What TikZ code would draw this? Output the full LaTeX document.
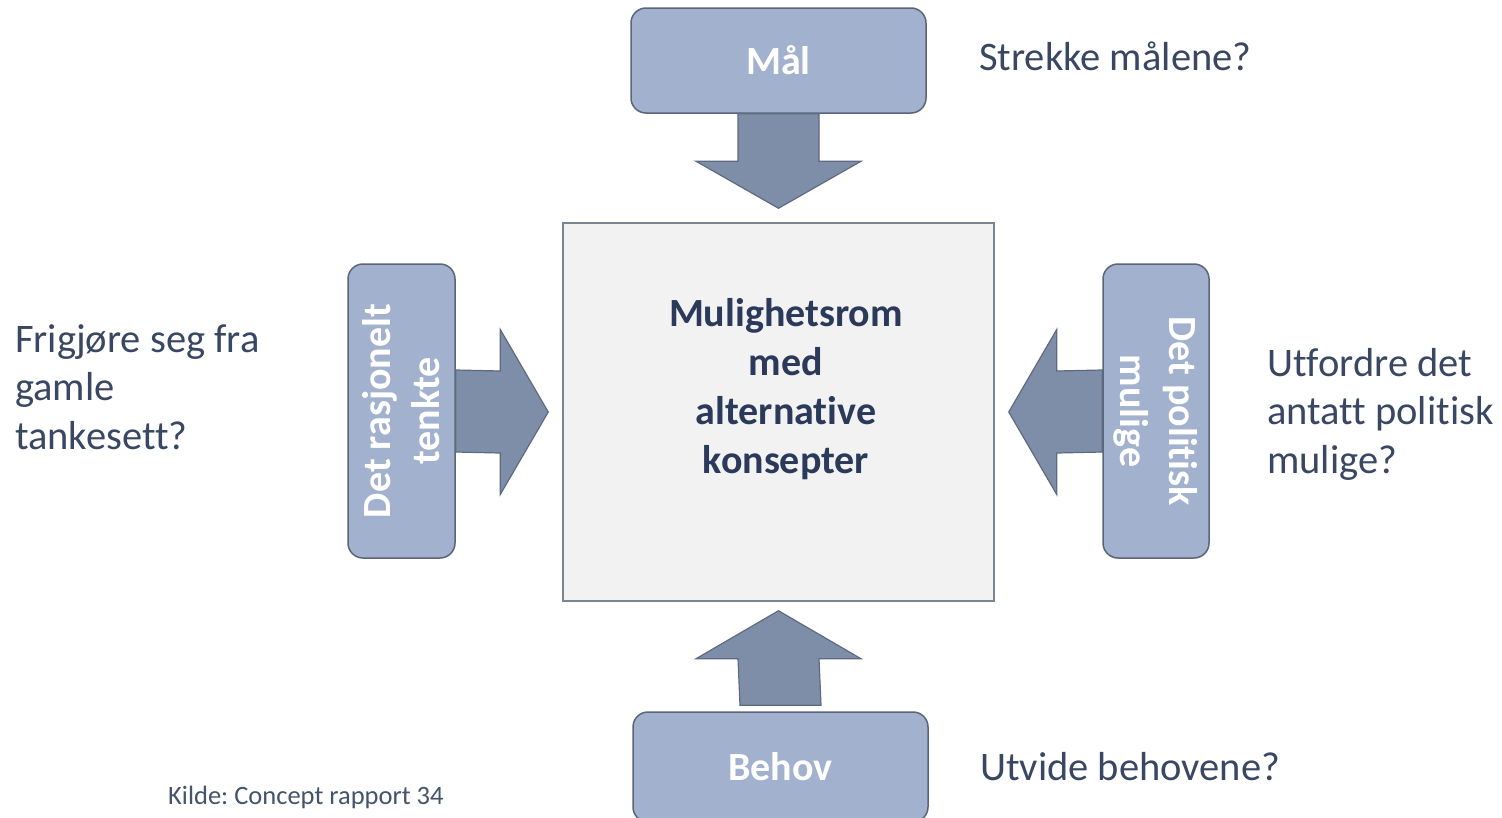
\documentclass[tikz,border=0pt]{standalone}
\usepackage{fontspec}
\setmainfont{Carlito}[Ligatures={NoCommon,NoRare,NoContextual},RawFeature={-liga;-clig;-calt;-dlig}]
\usetikzlibrary{calc}
\definecolor{boxfill}{HTML}{A2B1CE}
\definecolor{boxline}{HTML}{5B6579}
\definecolor{arrfill}{HTML}{7F8EA8}
\definecolor{arrline}{HTML}{5E6A80}
\definecolor{ctrfill}{HTML}{F2F2F2}
\definecolor{ctrline}{HTML}{7C8594}
\definecolor{ctrtxt}{HTML}{2B3A5A}
\definecolor{txt}{HTML}{3A4762}
\definecolor{srctxt}{HTML}{44546A}
\frenchspacing
\begin{document}
\begin{tikzpicture}[x=1pt,y=-1pt,
  gbox/.style={draw=boxline, line width=1.5pt, fill=boxfill, rounded corners=15pt,
    inner sep=0pt, text=white, font=\fontsize{40}{49}\selectfont\bfseries, align=center},
  ctrbox/.style={draw=ctrline, line width=1.5pt, fill=ctrfill, inner sep=0pt},
  ctrlabel/.style={inner sep=0pt, text=ctrtxt, font=\fontsize{40}{49}\selectfont\bfseries, align=center},
  arr/.style={draw=arrline, line width=1.2pt, fill=arrfill, line join=miter},
  note/.style={inner sep=0pt, anchor=west, align=left, text=txt,
    font=\fontsize{40.5}{48.5}\selectfont},
]
\useasboundingbox (0,0) rectangle (1502,817);
\fill[white] (0,0) rectangle (1502,817);

% nodes
\node[ctrbox, minimum width=431, minimum height=378] (ctr) at (778.5,412) {};
\node[ctrlabel] (ctrl) at (786,389) {Mulighetsrom\\med\\alternative\\konsepter};
\node[gbox, minimum width=295, minimum height=105] (mal) at (778.5,60.5) {Mål};
\node[gbox, minimum width=295, minimum height=110] (beh) at (780.5,767) {Behov};
\node[gbox, minimum width=294, minimum height=107, rotate=90] (rasj) at (401.5,411)
  {Det rasjonelt\\tenkte};
\node[gbox, minimum width=294, minimum height=106, rotate=-90] (pol) at (1156,411)
  {Det politisk\\mulige};

% block arrows
% top: Mål -> centre
\coordinate (tT) at ($(ctr.north)+(0,-14)$);
\draw[arr] ($(mal.south)+(-40.5,0)$) -- ($(tT)+(-40.5,-47)$) -- ($(tT)+(-82.5,-47)$)
  -- (tT) -- ($(tT)+(82.5,-47)$) -- ($(tT)+(40.5,-47)$) -- ($(mal.south)+(40.5,0)$) -- cycle;
% bottom: Behov -> centre
\coordinate (tB) at ($(ctr.south)+(0,9)$);
\draw[arr] ($(beh.north)+(-40.5,-6)$) -- ($(tB)+(-40.5,48)$) -- ($(tB)+(-82.5,48)$)
  -- (tB) -- ($(tB)+(82.5,48)$) -- ($(tB)+(40.5,48)$) -- ($(beh.north)+(40.5,-6)$) -- cycle;
% left: rasjonelt (its south anchor is its right side) -> centre
\coordinate (tL) at ($(ctr.west)+(-14,0)$);
\draw[arr] ($(rasj.south)+(0,-41)$) -- ($(tL)+(-48,-41)$) -- ($(tL)+(-48,-82.5)$)
  -- (tL) -- ($(tL)+(-48,82.5)$) -- ($(tL)+(-48,41)$) -- ($(rasj.south)+(0,41)$) -- cycle;
% right: politisk (its south anchor is its left side) -> centre
\coordinate (tR) at ($(ctr.east)+(14,0)$);
\draw[arr] ($(pol.south)+(0,-41)$) -- ($(tR)+(48,-41)$) -- ($(tR)+(48,-82.5)$)
  -- (tR) -- ($(tR)+(48,82.5)$) -- ($(tR)+(48,41)$) -- ($(pol.south)+(0,41)$) -- cycle;

% side texts
\node[note] (q1) at (979,56) {Strekke målene?};
\node[note] (q2) at (15,387) {Frigjøre seg fra\\gamle\\tankesett?};
\node[note] (q3) at (1267,414) {Utfordre det\\antatt politisk\\mulige?};
\node[note] (q4) at (980,767) {Utvide behovene?};
\node[inner sep=0pt, anchor=west, text=srctxt, font=\fontsize{26.5}{32}\selectfont] (src)
  at (168,797) {Kilde: Concept rapport 34};
\end{tikzpicture}
\end{document}
